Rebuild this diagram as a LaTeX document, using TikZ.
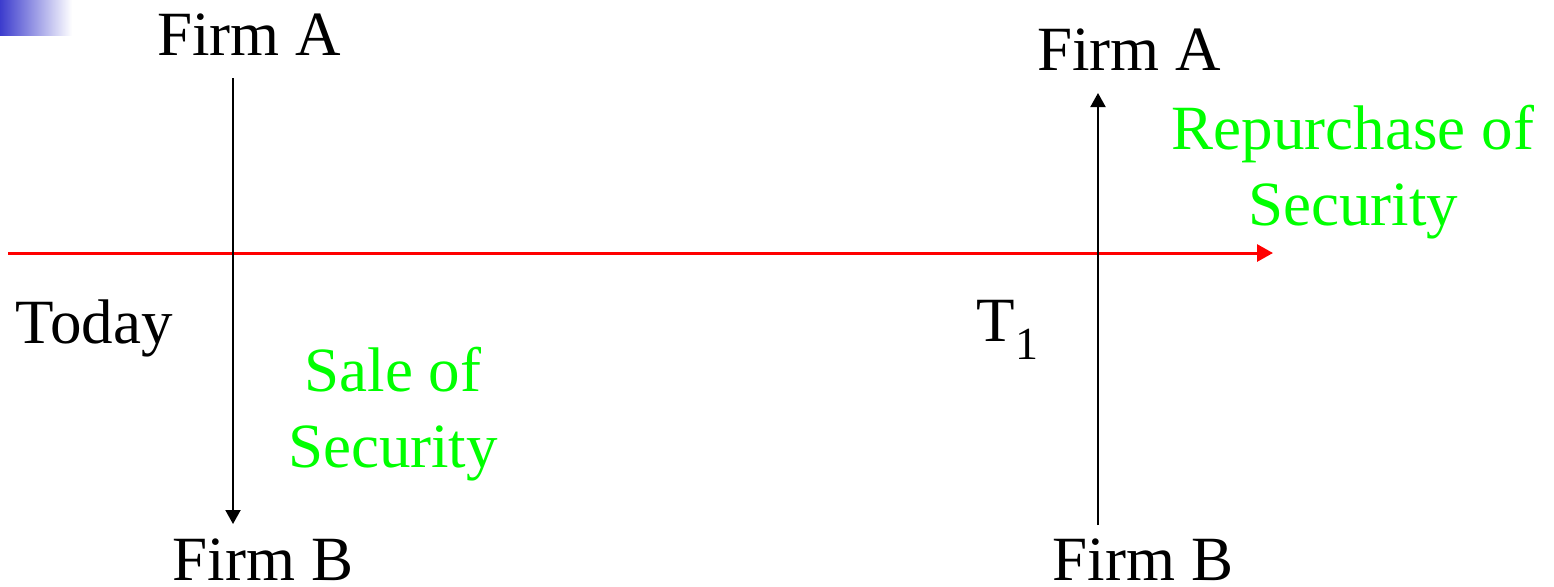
\documentclass[tikz,border=0pt]{standalone}
\usepackage{fontspec}
\setmainfont{Liberation Serif}
\usepackage{tikz}
\usetikzlibrary{arrows.meta}

\begin{document}
\begin{tikzpicture}[x=0.5pt,y=0.5pt,yscale=-1,xscale=1,
  firm/.style={anchor=base,inner sep=0.75pt,font=\fontsize{31.5}{36}\selectfont},
  note/.style={firm,text=green,align=center},
  flow/.style={line width=1pt,-{Triangle[length=7pt,width=7.5pt]}}]
\useasboundingbox (0,0) rectangle (1554,586);
%corner shading
\shade [left color={rgb, 255:red, 60; green, 60; blue, 205 },right color=white] (0,0) rectangle (72,35);

% Text Node
\node [firm] (firmAleft) at (249,55) {Firm A};
% Text Node
\node [firm] (firmBleft) at (263,580) {Firm B};
% Text Node
\node [firm] (firmAright) at (1129,70) {Firm A};
% Text Node
\node [firm] (firmBright) at (1143,580) {Firm B};
% Text Node
\node [firm,anchor=base west] (today) at (14,343) {Today};
% Text Node
\node [firm,anchor=base west] (tone) at (975,341) {T\raisebox{-9pt}{\fontsize{23}{23}\selectfont 1}};
% Text Node
\node [note] (sale) at (393,467) {Sale of\\[2pt]Security};
% Text Node
\node [note] (repurchase) at (1353,225) {Repurchase of\\[2pt]Security};

\coordinate (timeStart) at (8,253);
\coordinate (timeEnd) at (1273,253);
\coordinate (saleTop) at (233,78);
\coordinate (saleEnd) at (233,524);
\coordinate (buyBottom) at (1098,525);
\coordinate (buyEnd) at (1098,93);

%Time line
\draw [color=red,line width=1.5pt,-{Triangle[length=8pt,width=8.5pt]}] (timeStart) -- (timeEnd);
%Straight Lines
\draw [flow] (saleTop) -- (saleEnd);
%Straight Lines
\draw [flow] (buyBottom) -- (buyEnd);

\end{tikzpicture}
\end{document}
